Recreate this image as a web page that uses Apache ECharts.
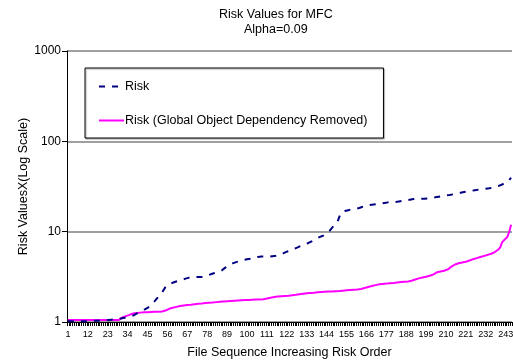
<!DOCTYPE html>
<html>
<head>
<meta charset="utf-8">
<script src="https://cdn.jsdelivr.net/npm/echarts@6/dist/echarts.min.js"></script>
<style>
  html, body { margin: 0; padding: 0; background: #fff; }
  #chart { width: 513px; height: 362px; }
</style>
</head>
<body>
<div id="chart"></div>
<script>
  // file sequence numbers, 1..246
  var fileCount = 246
  var categories = []
  for (var i = 1; i <= fileCount; i++) {
    categories.push(String(i))
  }

  var seriesNames = ['Risk', 'Risk (Global Object Dependency Removed)']

  // Risk values (log scale)
  var riskValues = [
    1.02, 1.02, 1.02, 1.02, 1.02, 1.02, 1.02, 1.02, 1.02, 1.02,
    1.02, 1.02, 1.03, 1.03, 1.03, 1.03, 1.03, 1.04, 1.04, 1.04,
    1.04, 1.05, 1.05, 1.05, 1.06, 1.06, 1.07, 1.08, 1.08, 1.09,
    1.10, 1.11, 1.12, 1.13, 1.14, 1.16, 1.18, 1.21, 1.24, 1.27,
    1.30, 1.33, 1.36, 1.40, 1.43, 1.47, 1.54, 1.62, 1.70, 1.80,
    1.90, 1.98, 2.12, 2.28, 2.45, 2.58, 2.64, 2.68, 2.73, 2.77,
    2.81, 2.85, 2.89, 2.93, 2.97, 3.02, 3.06, 3.10, 3.13, 3.15,
    3.15, 3.15, 3.15, 3.15, 3.15, 3.16, 3.20, 3.26, 3.33, 3.38,
    3.43, 3.48, 3.54, 3.60, 3.66, 3.72, 3.85, 4.00, 4.15, 4.30,
    4.38, 4.45, 4.52, 4.60, 4.67, 4.73, 4.80, 4.85, 4.90, 4.95,
    4.98, 5.02, 5.08, 5.14, 5.20, 5.25, 5.30, 5.30, 5.30, 5.30,
    5.30, 5.30, 5.32, 5.35, 5.38, 5.40, 5.43, 5.48, 5.60, 5.75,
    5.88, 6.00, 6.10, 6.20, 6.32, 6.45, 6.58, 6.70, 6.84, 6.98,
    7.12, 7.25, 7.35, 7.50, 7.68, 7.88, 8.10, 8.30, 8.50, 8.70,
    8.85, 9.00, 9.30, 9.60, 10.0, 10.4, 11.0, 11.6, 12.2, 12.8,
    14.5, 16.3, 16.6, 16.9, 17.1, 17.3, 17.5, 17.7, 17.8, 17.9,
    18.0, 18.3, 18.6, 18.9, 19.1, 19.3, 19.5, 19.7, 19.8, 20.0,
    20.1, 20.2, 20.4, 20.5, 20.7, 20.8, 21.0, 21.1, 21.2, 21.2,
    21.3, 21.3, 21.4, 21.6, 21.7, 21.9, 22.0, 22.2, 22.4, 22.6,
    22.8, 23.0, 23.1, 23.2, 23.2, 23.2, 23.2, 23.2, 23.2, 23.3,
    23.5, 23.7, 23.9, 24.0, 24.2, 24.4, 24.6, 24.8, 25.0, 25.2,
    25.3, 25.5, 25.7, 25.9, 26.1, 26.3, 26.6, 26.9, 27.2, 27.5,
    27.8, 27.9, 28.1, 28.3, 28.5, 28.8, 29.0, 29.2, 29.4, 29.5,
    29.7, 29.8, 29.9, 30.2, 30.5, 30.8, 31.1, 31.5, 32.0, 32.6,
    33.3, 34.0, 34.8, 35.5, 37.5, 39.5
  ]

  // Risk with global object dependency removed
  var riskNoGlobalValues = [
    1.05, 1.05, 1.05, 1.05, 1.05, 1.05, 1.05, 1.05, 1.05, 1.05,
    1.05, 1.05, 1.05, 1.05, 1.05, 1.05, 1.05, 1.05, 1.05, 1.05,
    1.05, 1.05, 1.05, 1.05, 1.05, 1.05, 1.05, 1.05, 1.05, 1.06,
    1.12, 1.14, 1.16, 1.18, 1.20, 1.22, 1.24, 1.25, 1.26, 1.26,
    1.27, 1.27, 1.28, 1.28, 1.28, 1.29, 1.29, 1.29, 1.30, 1.30,
    1.30, 1.30, 1.31, 1.32, 1.34, 1.37, 1.40, 1.42, 1.44, 1.46,
    1.47, 1.49, 1.50, 1.51, 1.52, 1.53, 1.54, 1.55, 1.55, 1.56,
    1.57, 1.58, 1.59, 1.60, 1.60, 1.61, 1.62, 1.62, 1.63, 1.63,
    1.64, 1.65, 1.66, 1.67, 1.68, 1.68, 1.69, 1.70, 1.70, 1.71,
    1.71, 1.72, 1.72, 1.73, 1.73, 1.74, 1.74, 1.74, 1.75, 1.75,
    1.75, 1.76, 1.76, 1.76, 1.77, 1.77, 1.77, 1.78, 1.79, 1.80,
    1.82, 1.84, 1.86, 1.88, 1.89, 1.90, 1.91, 1.92, 1.93, 1.93,
    1.94, 1.95, 1.95, 1.96, 1.98, 1.99, 2.00, 2.02, 2.03, 2.05,
    2.06, 2.07, 2.08, 2.09, 2.10, 2.10, 2.11, 2.12, 2.13, 2.14,
    2.15, 2.15, 2.16, 2.16, 2.17, 2.17, 2.18, 2.18, 2.19, 2.19,
    2.20, 2.21, 2.22, 2.23, 2.24, 2.25, 2.26, 2.27, 2.28, 2.28,
    2.29, 2.30, 2.32, 2.35, 2.38, 2.41, 2.44, 2.47, 2.50, 2.53,
    2.56, 2.59, 2.61, 2.63, 2.64, 2.65, 2.66, 2.67, 2.69, 2.70,
    2.71, 2.72, 2.74, 2.76, 2.77, 2.78, 2.79, 2.80, 2.81, 2.83,
    2.86, 2.90, 2.95, 3.00, 3.04, 3.08, 3.11, 3.14, 3.17, 3.20,
    3.25, 3.30, 3.36, 3.45, 3.55, 3.60, 3.63, 3.66, 3.69, 3.72,
    3.82, 3.95, 4.10, 4.23, 4.33, 4.41, 4.47, 4.52, 4.56, 4.60,
    4.65, 4.72, 4.80, 4.88, 4.96, 5.03, 5.10, 5.17, 5.25, 5.30,
    5.38, 5.46, 5.54, 5.60, 5.70, 5.82, 5.95, 6.10, 6.35, 6.70,
    7.60, 8.00, 8.40, 8.80, 10.0, 11.9
  ]

  var font = 'Liberation Sans, Arial, sans-serif'
  var navy = '#000080'
  var magenta = '#ff00ff'

  var chart = echarts.init(document.getElementById('chart'))
  chart.setOption({
    backgroundColor: '#ffffff',
    animation: false,
    title: [{
      text: 'Risk Values for MFC',
      left: 219,
      top: 8,
      padding: 0,
      textStyle: { fontFamily: font, fontSize: 12.5, fontWeight: 'normal', color: '#000' }
    }, {
      text: 'Alpha=0.09',
      left: 244,
      top: 23,
      padding: 0,
      textStyle: { fontFamily: font, fontSize: 12.5, fontWeight: 'normal', color: '#000' }
    }],
    legend: {
      orient: 'vertical',
      left: 85,
      top: 68,
      padding: [12, 16, 11, 13],
      itemGap: 21,
      itemWidth: 25,
      itemHeight: 14,
      borderColor: '#000',
      borderWidth: 1,
      shadowColor: 'rgba(0,0,0,0.35)',
      shadowOffsetX: 1,
      shadowOffsetY: 1,
      shadowBlur: 1,
      backgroundColor: '#fff',
      itemStyle: { opacity: 0 },
      textStyle: { fontFamily: font, fontSize: 12.5, color: '#000', padding: [0, 0, 0, -4] },
      data: seriesNames
    },
    grid: {
      left: 67,
      right: 1,
      top: 51,
      bottom: 40,
      outerBoundsMode: 'none'
    },
    xAxis: {
      type: 'category',
      data: categories,
      boundaryGap: true,
      name: 'File Sequence Increasing Risk Order',
      nameLocation: 'middle',
      nameGap: 24,
      nameTextStyle: { fontFamily: font, fontSize: 12.5, color: '#000' },
      axisLine: { lineStyle: { color: '#000', width: 1 } },
      axisTick: { show: true, interval: 0, length: 4, lineStyle: { color: '#000', width: 1 } },
      axisLabel: {
        interval: 10,
        margin: 8,
        fontFamily: font,
        fontSize: 9,
        color: '#000'
      },
      splitLine: { show: false }
    },
    yAxis: {
      type: 'log',
      logBase: 10,
      min: 1,
      max: 1000,
      name: 'Risk ValuesX(Log Scale)',
      nameLocation: 'middle',
      nameGap: 37,
      nameMoveOverlap: false,
      nameTextStyle: { fontFamily: font, fontSize: 12.5, color: '#000' },
      axisLine: { show: true, lineStyle: { color: '#000', width: 1 } },
      axisTick: { show: true, length: 5, lineStyle: { color: '#000' } },
      minorTick: { show: false },
      axisLabel: {
        margin: 6,
        fontFamily: font,
        fontSize: 12,
        color: '#000',
        formatter: function(v) { return String(v) }
      },
      splitLine: { show: true, lineStyle: { color: '#808080', width: 1.5 } }
    },
    series: [{
      name: seriesNames[0],
      type: 'line',
      data: riskValues,
      symbol: 'none',
      showSymbol: false,
      z: 3,
      lineStyle: { color: navy, width: 2, type: [6, 7] },
      itemStyle: { color: navy }
    }, {
      name: seriesNames[1],
      type: 'line',
      data: riskNoGlobalValues,
      symbol: 'none',
      showSymbol: false,
      z: 2,
      lineStyle: { color: magenta, width: 2 },
      itemStyle: { color: magenta }
    }]
  })
</script>
</body>
</html>
